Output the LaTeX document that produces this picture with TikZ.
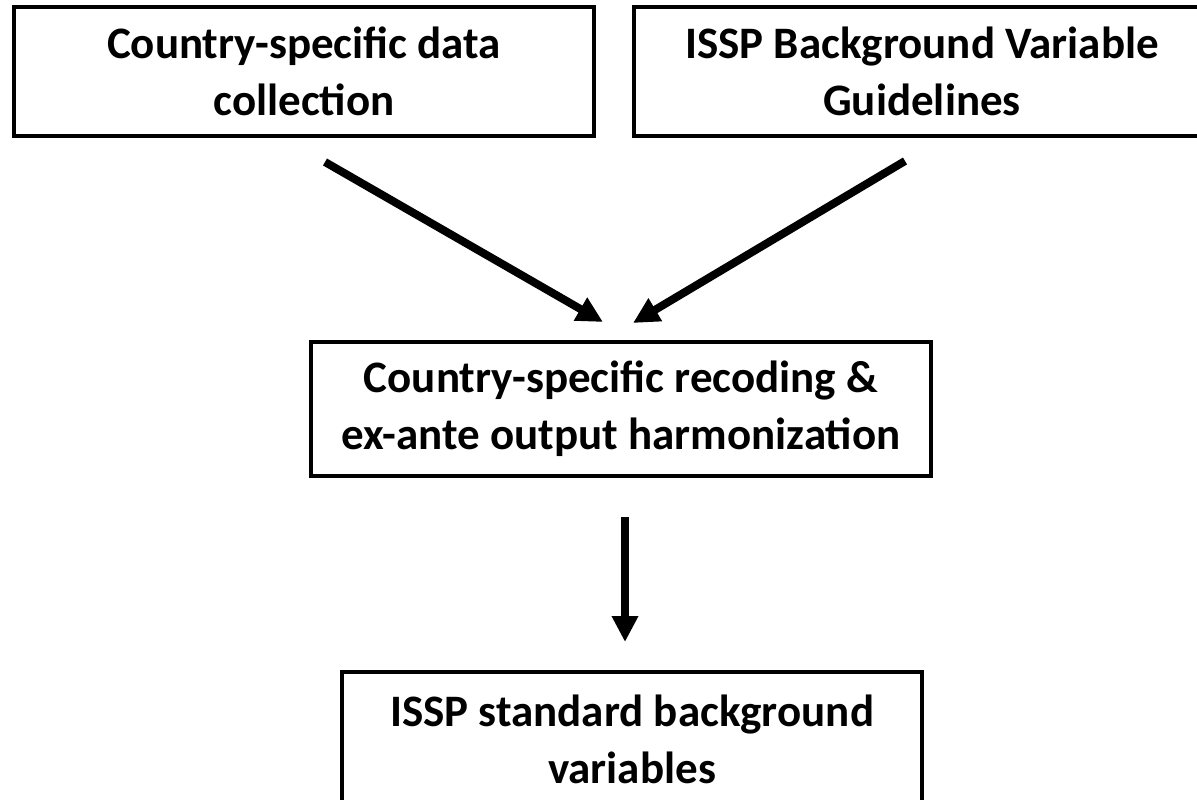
\documentclass[tikz,border=0pt]{standalone}
\usepackage{fontspec}
\setmainfont{Carlito}
\usetikzlibrary{arrows.meta}
\begin{document}
\begin{tikzpicture}[x=1pt,y=-1pt,
  box/.style={draw,line width=4pt,inner sep=0pt,align=center,
    font=\fontsize{45}{57}\selectfont\bfseries},
  arr/.style={line width=8pt,-{Triangle[width=25pt,length=26pt]}}]
\useasboundingbox (0,0) rectangle (1197,800);
\node[box,minimum width=580pt,minimum height=129pt] (b1) at (304,71.5)
  {Country-specific data\\collection};
\node[box,minimum width=576pt,minimum height=129pt] (b2) at (922,71.5)
  {ISSP Background Variable\\Guidelines};
\node[box,minimum width=620pt,minimum height=134pt] (b3) at (621,409)
  {Country-specific recoding \&\\ex-ante output harmonization};
\node[box,minimum width=580pt,minimum height=134pt] (b4) at (632,739)
  {ISSP standard background\\variables};
\coordinate (s1) at (325,162);
\coordinate (t1) at (603,322);
\coordinate (s2) at (905,161);
\coordinate (t2) at (633,323);
\coordinate (s3) at (625,517);
\coordinate (t3) at (625,642);
\draw[arr] (s1) -- (t1);
\draw[arr] (s2) -- (t2);
\draw[arr] (s3) -- (t3);
\end{tikzpicture}
\end{document}
